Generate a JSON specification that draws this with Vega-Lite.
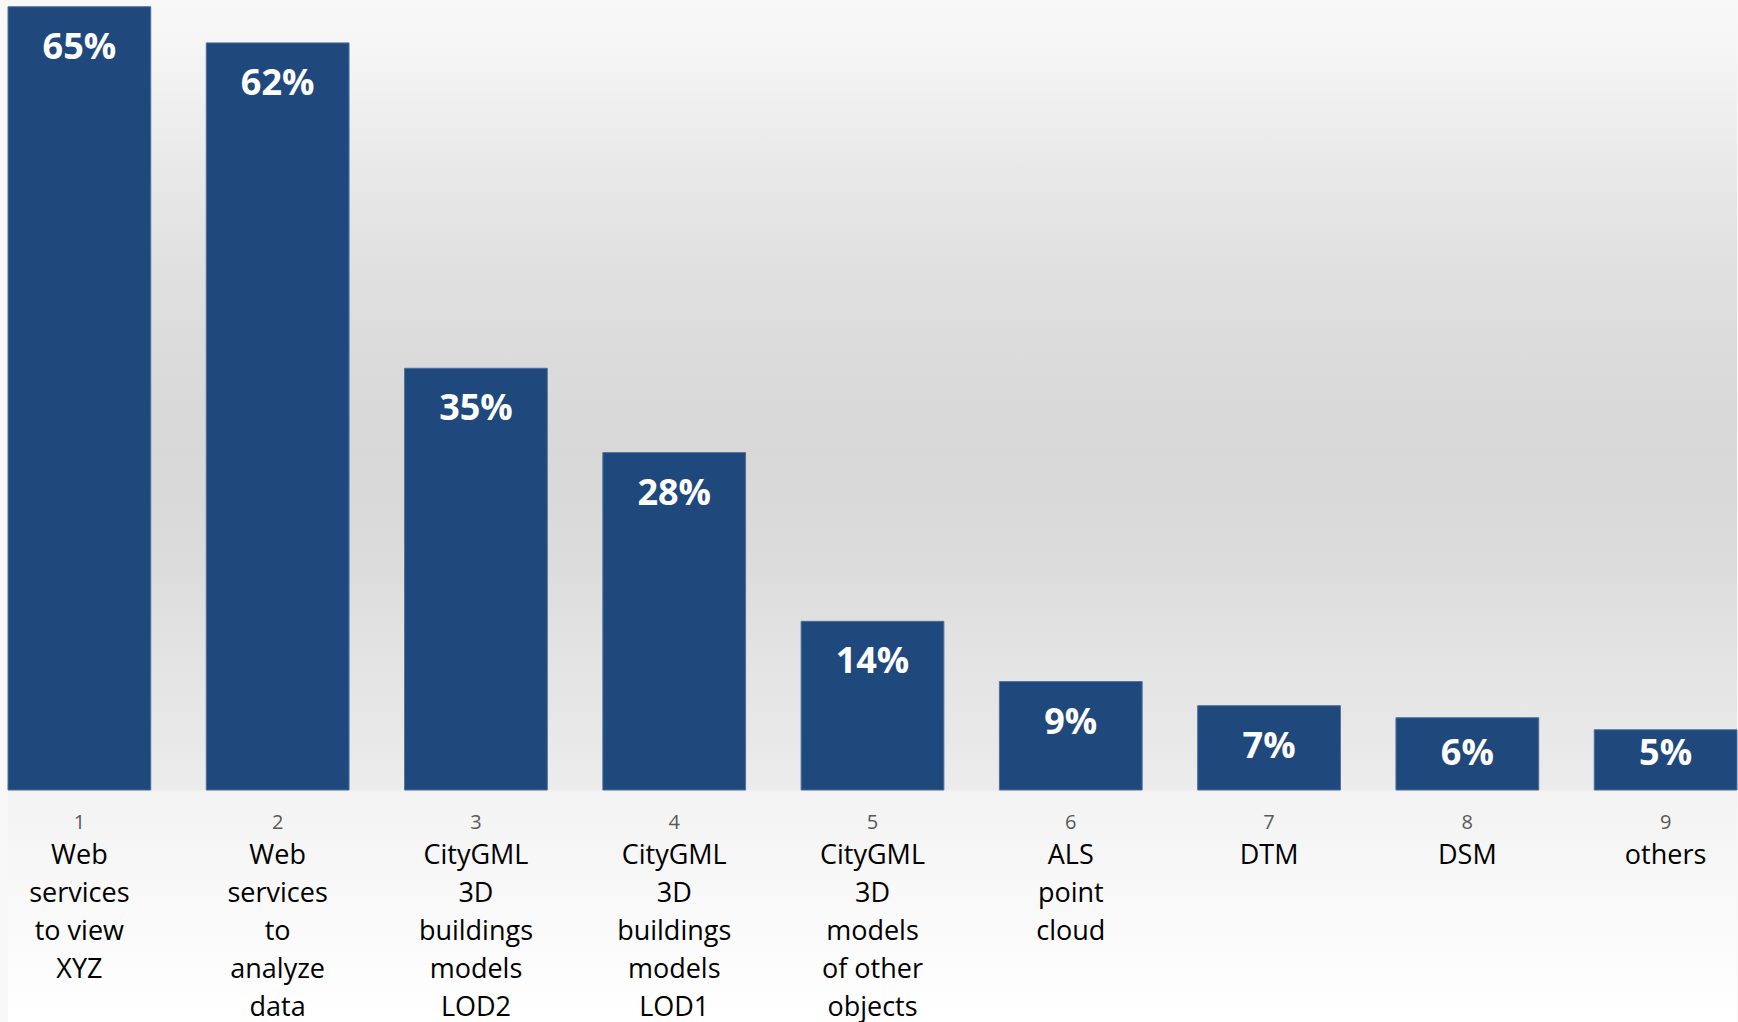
{
  "$schema": "https://vega.github.io/schema/vega-lite/v6.json",
  "width": 1729,
  "height": 1022,
  "padding": {"left": 8, "right": 1, "top": 0, "bottom": 0},
  "autosize": {"type": "none"},
  "background": "#f8f8f8",
  "config": {
    "view": {
      "stroke": null,
      "fill": {
        "gradient": "linear",
        "x1": 0, "y1": 0, "x2": 0, "y2": 1,
        "stops": [
          {"offset": 0, "color": "#f8f8f8"},
          {"offset": 0.05, "color": "#f5f5f5"},
          {"offset": 0.15, "color": "#eaeaea"},
          {"offset": 0.25, "color": "#e1e1e1"},
          {"offset": 0.35, "color": "#dbdbdb"},
          {"offset": 0.44, "color": "#d8d8d8"},
          {"offset": 0.54, "color": "#dbdbdb"},
          {"offset": 0.64, "color": "#e3e3e3"},
          {"offset": 0.72, "color": "#e8e8e8"},
          {"offset": 0.772, "color": "#ececec"},
          {"offset": 0.775, "color": "#f3f3f3"},
          {"offset": 1, "color": "#ffffff"}
        ]
      }
    },
    "axis": {"grid": false, "domain": false, "ticks": false, "tickSize": 0, "title": null}
  },
  "data": {
    "values": [
      {"key": "1|Web|services|to view|XYZ", "share": 0.65},
      {"key": "2|Web|services|to|analyze|data", "share": 0.62},
      {"key": "3|CityGML|3D|buildings|models|LOD2", "share": 0.35},
      {"key": "4|CityGML|3D|buildings|models|LOD1", "share": 0.28},
      {"key": "5|CityGML|3D|models|of other|objects", "share": 0.14},
      {"key": "6|ALS|point|cloud", "share": 0.09},
      {"key": "7|DTM", "share": 0.07},
      {"key": "8|DSM", "share": 0.06},
      {"key": "9|others", "share": 0.05}
    ]
  },
  "resolve": {"axis": {"x": "independent"}},
  "layer": [
    {
      "mark": {"type": "bar", "color": "#1f497d", "stroke": "#4f6f9a", "strokeWidth": 1},
      "encoding": {
        "x": {
          "field": "key", "type": "nominal", "sort": null,
          "scale": {"paddingInner": 0.28, "paddingOuter": 0},
          "axis": {
            "orient": "bottom", "offset": -232,
            "labelExpr": "split(datum.label, '|')[0]",
            "labelAngle": 0, "labelAlign": "center", "labelBaseline": "top",
            "labelPadding": 22, "labelFontSize": 20, "labelColor": "#595959",
            "labelFont": "Open Sans", "labelLimit": 0
          }
        },
        "y": {
          "field": "share", "type": "quantitative",
          "scale": {"domain": [-0.1925, 0.6556], "nice": false, "zero": false},
          "axis": null
        },
        "y2": {"datum": 0}
      }
    },
    {
      "mark": {"type": "text", "color": "white", "font": "Open Sans", "fontWeight": "bold", "fontSize": 36, "baseline": "middle", "align": "center",
        "dy": {"expr": "min(41, 754 - scale('y', datum.share))"}},
      "encoding": {
        "x": {
          "field": "key", "type": "nominal", "sort": null,
          "axis": {
            "orient": "bottom", "offset": -232,
            "labelExpr": "slice(split(datum.label, '|'), 1)",
            "labelAngle": 0, "labelAlign": "center", "labelBaseline": "top",
            "labelPadding": 52, "labelFontSize": 27, "labelLineHeight": 38,
            "labelColor": "#000000", "labelFont": "Open Sans", "labelLimit": 0
          }
        },
        "y": {"field": "share", "type": "quantitative", "axis": null},
        "text": {"field": "share", "type": "quantitative", "format": ".0%"}
      }
    }
  ]
}
